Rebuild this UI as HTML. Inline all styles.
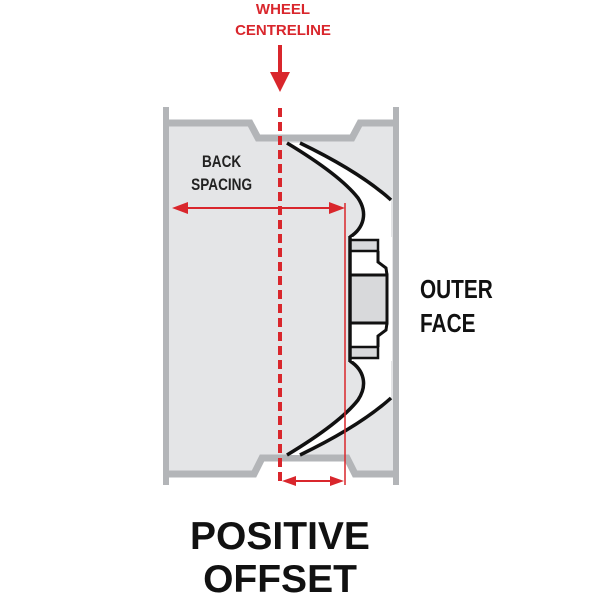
<!DOCTYPE html>
<html><head><style>
body{margin:0;background:#fff;width:600px;height:600px;overflow:hidden}
svg{display:block}
</style></head><body>
<svg width="600" height="600" viewBox="0 0 600 600" xmlns="http://www.w3.org/2000/svg">
<text x="283" y="14" text-anchor="middle" font-family="Liberation Sans,sans-serif" font-weight="bold" font-size="15" fill="#d9262c">WHEEL</text>
<text x="283" y="35" text-anchor="middle" font-family="Liberation Sans,sans-serif" font-weight="bold" font-size="15" fill="#d9262c">CENTRELINE</text>
<line x1="280" y1="45" x2="280" y2="75" stroke="#d9262c" stroke-width="4"/>
<polygon points="270,72 290,72 280,92" fill="#d9262c"/>
<path d="M168,124 L250,124 L258,139 L352,139 L360,124 L395,124 L395,473 L355,473 L347,457 L262,457 L254,473 L168,473 Z" fill="#e4e5e7"/>
<path d="M168,123 L250,123 L258,138 L352,138 L360,123 L395,123" fill="none" stroke="#b3b5b8" stroke-width="7"/>
<path d="M168,474 L254,474 L262,458 L347,458 L355,474 L395,474" fill="none" stroke="#b3b5b8" stroke-width="7"/>
<rect x="163" y="107" width="6" height="378" fill="#b3b5b8"/>
<rect x="393" y="107" width="6" height="378" fill="#b3b5b8"/>
<!-- spoke top -->
<path d="M287,143 L300,143 Q360,172 391,200 L391,237 L350,237 C364,228 368,213 358,198 Q340,175 287,143 Z" fill="#fff"/>
<path d="M300,143 Q360,172 391,200" fill="none" stroke="#111" stroke-width="3.5"/>
<path d="M287,143 Q340,175 358,198 C368,213 364,228 350,237" fill="none" stroke="#111" stroke-width="3.5"/>
<!-- spoke bottom -->
<path d="M287,455 L300,455 Q360,426 391,398 L391,361 L350,361 C364,370 368,385 358,400 Q340,423 287,455 Z" fill="#fff"/>
<path d="M300,455 Q360,426 391,398" fill="none" stroke="#111" stroke-width="3.5"/>
<path d="M287,455 Q340,423 358,400 C368,385 364,370 350,361" fill="none" stroke="#111" stroke-width="3.5"/>
<!-- hub -->
<rect x="349" y="237" width="43" height="124" fill="#fff"/>
<rect x="350" y="240" width="28" height="11" fill="#d8d9db" stroke="#111" stroke-width="2.5"/>
<rect x="350" y="347" width="28" height="11" fill="#d8d9db" stroke="#111" stroke-width="2.5"/>
<path d="M350,275 L387,275 L387,323 L350,323 Z" fill="#d8d9db" stroke="#111" stroke-width="3"/>
<path d="M378,251 L378,262 L386,268 L387,275" fill="none" stroke="#111" stroke-width="3"/>
<path d="M378,347 L378,336 L386,330 L387,323" fill="none" stroke="#111" stroke-width="3"/>
<line x1="350" y1="236" x2="350" y2="362" stroke="#111" stroke-width="3.5"/>
<!-- centreline -->
<line x1="280" y1="108" x2="280" y2="485" stroke="#d9262c" stroke-width="4" stroke-dasharray="9,5"/>
<!-- back spacing -->
<line x1="180" y1="208" x2="338" y2="208" stroke="#d9262c" stroke-width="2"/>
<polygon points="172,208 188,202 188,214" fill="#d9262c"/>
<polygon points="345,208 329,202 329,214" fill="#d9262c"/>
<line x1="345" y1="203" x2="345" y2="485" stroke="#d9262c" stroke-width="1.5"/>
<line x1="290" y1="481" x2="336" y2="481" stroke="#d9262c" stroke-width="2"/>
<polygon points="282,481 296,476 296,486" fill="#d9262c"/>
<polygon points="344,481 330,476 330,486" fill="#d9262c"/>
<g transform="scale(0.8,1)">
<text x="277" y="167" text-anchor="middle" font-family="Liberation Sans,sans-serif" font-weight="bold" font-size="17" fill="#222">BACK</text>
<text x="277" y="190" text-anchor="middle" font-family="Liberation Sans,sans-serif" font-weight="bold" font-size="17" fill="#222">SPACING</text>
<text x="525" y="298" font-family="Liberation Sans,sans-serif" font-weight="bold" font-size="26" fill="#111">OUTER</text>
<text x="525" y="332" font-family="Liberation Sans,sans-serif" font-weight="bold" font-size="26" fill="#111">FACE</text>
</g>
<text x="280" y="549" text-anchor="middle" font-family="Liberation Sans,sans-serif" font-weight="bold" font-size="39" fill="#111">POSITIVE</text>
<text x="280" y="592" text-anchor="middle" font-family="Liberation Sans,sans-serif" font-weight="bold" font-size="39" fill="#111">OFFSET</text>
</svg>
</body></html>
